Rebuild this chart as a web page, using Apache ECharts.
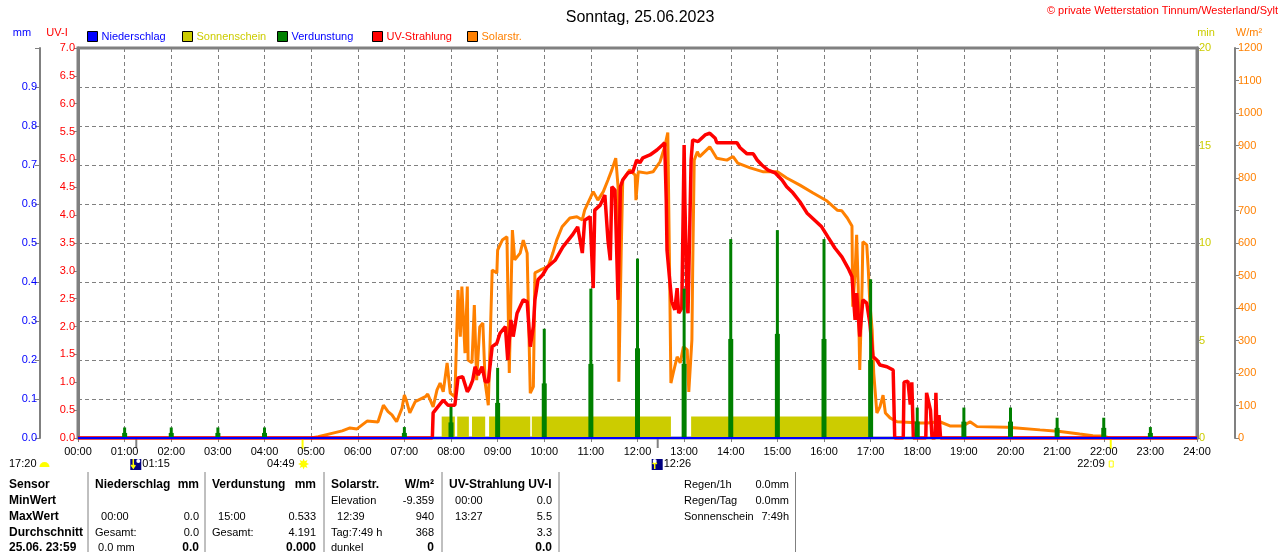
<!DOCTYPE html>
<html>
<head>
<meta charset="utf-8">
<title>Sonntag, 25.06.2023</title>
<script src="https://cdn.jsdelivr.net/npm/echarts/dist/echarts.min.js"></script>
<style>
html, body { margin: 0; padding: 0; background: #fff; }
#chart { width: 1280px; height: 552px; }
</style>
</head>
<body>
<div id="chart"></div>
<script>
// Tagesdaten 25.06.2023 (Zeit in Minuten seit Mitternacht)
var precipHourly = [0,0,0,0,0,0,0,0,0,0,0,0,0,0,0,0,0,0,0,0,0,0,0,0,0];

var sunStart = [468, 488, 507, 529, 584, 789];
var sunEnd   = [485, 503, 524, 582, 763, 1017];
var sunMin   = [1.1, 1.1, 1.1, 1.1, 1.1, 1.1];

var evapHours = [1,2,3,4,7,8,9,10,11,12,13,14,15,16,17,18,19,20,21,22,23];
var evapPeak  = [0.027,0.027,0.027,0.027,0.028,0.080,0.180,0.280,0.383,0.460,0.383,0.510,0.533,0.510,0.407,0.078,0.078,0.078,0.052,0.052,0.028];
var evapHalf  = [0.013,0.013,0.013,0.013,0.013,0.040,0.090,0.140,0.190,0.230,0.190,0.254,0.267,0.254,0.200,0.042,0.042,0.042,0.026,0.026,0.013];

var uvIndex = [[0,0],[456,0],[457,0.45],[462,0.54],[470,0.68],[476,0.59],[485,0.59],[489,1.08],[495,1.10],[501,0.83],[504,0.90],[508,1.04],[511,1.28],[515,1.13],[520,1.28],[524,1.01],[528,1.01],[533,1.64],[539,1.70],[543,1.88],[550,2.00],[553,1.40],[557,2.12],[560,1.82],[565,2.24],[573,2.48],[578,2.45],[582,1.64],[586,2.00],[588,2.48],[592,2.84],[598,2.93],[604,3.07],[614,3.19],[624,3.43],[636,3.64],[643,3.79],[649,3.32],[652,3.91],[659,3.97],[663,2.69],[665,4.09],[672,4.18],[678,4.36],[682,3.55],[685,3.19],[687,4.51],[691,4.45],[695,2.48],[698,4.51],[701,4.63],[708,4.76],[714,4.78],[719,4.99],[723,4.94],[727,5.03],[736,5.08],[745,5.17],[752,5.26],[755,5.30],[757,4.27],[758,3.37],[761,2.90],[764,2.45],[768,2.30],[771,2.69],[773,2.24],[777,2.33],[780,5.26],[781,4.22],[784,2.36],[785,2.24],[789,4.99],[791,5.35],[798,5.32],[807,5.44],[813,5.47],[820,5.38],[822,5.30],[848,5.30],[852,5.21],[861,5.10],[869,5.10],[874,4.99],[880,4.90],[888,4.81],[897,4.76],[906,4.63],[912,4.51],[920,4.40],[929,4.24],[938,4.04],[948,3.91],[957,3.79],[965,3.61],[974,3.41],[983,3.25],[991,3.05],[996,2.90],[1000,2.12],[1002,2.60],[1006,1.82],[1010,2.48],[1015,2.42],[1019,2.06],[1023,1.46],[1028,1.40],[1032,1.31],[1041,1.28],[1049,1.22],[1050,1.19],[1051,0],[1062,0],[1063,1.00],[1068,1.02],[1071,0.60],[1073,1.00],[1075,0],[1091,0],[1092,0.81],[1097,0.50],[1099,0],[1103,0],[1104,0.81],[1105,0.30],[1106,0],[1108,0.41],[1110,0],[1440,0]];

var solarWm2 = [[300,0],[309,4],[328,15],[340,22],[350,31],[359,28],[372,52],[386,49],[393,101],[399,81],[404,71],[410,50],[417,92],[420,132],[423,112],[427,77],[434,112],[447,127],[450,135],[457,96],[462,148],[466,169],[470,142],[475,231],[479,138],[485,127],[489,455],[492,312],[494,466],[498,261],[501,466],[502,240],[507,231],[510,409],[513,178],[517,342],[521,354],[524,169],[528,101],[533,517],[539,508],[540,578],[546,609],[552,619],[555,200],[559,640],[562,548],[569,569],[573,609],[578,569],[582,138],[586,158],[588,508],[595,517],[605,527],[611,569],[616,609],[623,650],[633,677],[642,681],[649,671],[652,701],[663,758],[669,732],[676,758],[682,794],[687,825],[692,861],[695,773],[696,173],[699,569],[701,794],[710,825],[717,809],[718,732],[721,819],[732,815],[740,819],[749,850],[755,896],[759,940],[761,569],[763,169],[766,200],[771,250],[775,231],[779,281],[784,271],[786,142],[790,302],[791,517],[793,855],[797,881],[800,866],[813,896],[822,861],[835,855],[843,866],[849,846],[865,831],[882,819],[900,819],[912,800],[929,778],[946,754],[964,729],[977,701],[983,699],[990,677],[996,652],[997,404],[1000,508],[1002,625],[1004,466],[1006,209],[1009,466],[1010,604],[1015,594],[1017,517],[1019,415],[1022,332],[1024,200],[1028,77],[1032,96],[1036,132],[1039,77],[1045,62],[1054,50],[1084,46],[1093,46],[1109,50],[1122,37],[1139,37],[1148,50],[1157,35],[1196,33],[1208,31],[1238,25],[1264,20],[1289,12],[1306,7],[1318,6],[1328,0]];

var legendNames = ['Niederschlag', 'Sonnenschein', 'Verdunstung', 'UV-Strahlung', 'Solarstr.'];
var legendBoxColors = ['#0000ff', '#cccc00', '#008000', '#ff0000', '#ff8000'];
var legendTextColors = ['#0000ff', '#cccc00', '#0000ff', '#ff0000', '#ff8000'];

var astroEvents = [
    { time: '01:15', type: 'moonrise' },
    { time: '04:49', type: 'sunrise' },
    { time: '12:26', type: 'moonset' },
    { time: '22:09', type: 'sunset' }
];
var prevEvent = '17:20';

var tableLabels = ['Sensor', 'MinWert', 'MaxWert', 'Durchschnitt', '25.06. 23:59'];
var tableBlocks = [
    { head: 'Niederschlag', unit: 'mm', left: ['', '  00:00', 'Gesamt:', ' 0.0 mm'], right: ['', '0.0', '0.0', '0.0'] },
    { head: 'Verdunstung', unit: 'mm', left: ['', '  15:00', 'Gesamt:', ''], right: ['', '0.533', '4.191', '0.000'] },
    { head: 'Solarstr.', unit: 'W/m²', left: ['Elevation', '  12:39', 'Tag:7:49 h', 'dunkel'], right: ['-9.359', '940', '368', '0'] },
    { head: 'UV-Strahlung UV-I', unit: '', left: ['  00:00', '  13:27', '', ''], right: ['0.0', '5.5', '3.3', '0.0'] }
];
var extraLabels = ['Regen/1h', 'Regen/Tag', 'Sonnenschein'];
var extraValues = ['0.0mm', '0.0mm', '7:49h'];

var FONT = '"Liberation Sans", Arial, sans-serif';
var GRAY = '#808080';

var chart = echarts.init(document.getElementById('chart'));

function pad2(n) { return (n < 10 ? '0' : '') + n; }
function toMin(s) { var p = s.split(':'); return (+p[0]) * 60 + (+p[1]); }

var option = {
    animation: false,
    backgroundColor: '#fff',
    title: {
        text: 'Sonntag, 25.06.2023',
        left: 'center',
        top: 5,
        textStyle: { fontFamily: FONT, fontSize: 16, fontWeight: 'normal', color: '#000' }
    },
    legend: legendNames.map(function (name, i) {
        return {
            data: [{ name: name, icon: 'rect', itemStyle: { color: legendBoxColors[i], borderColor: '#000', borderWidth: 1 } }],
            left: 87 + 95 * i,
            top: 31,
            padding: 0,
            itemWidth: 10,
            itemHeight: 10,
            itemGap: 0,
            selectedMode: false,
            textStyle: { color: legendTextColors[i], fontFamily: FONT, fontSize: 11, padding: [0, 0, 0, -1] }
        };
    }),
    grid: { left: 78, right: 83, top: 48, bottom: 114, show: true, borderColor: GRAY, borderWidth: 3 },
    xAxis: {
        type: 'value', min: 0, max: 1440, interval: 60,
        axisLine: { show: true, onZero: false, lineStyle: { color: GRAY, width: 1 } },
        axisTick: { show: true, length: 4, lineStyle: { color: GRAY } },
        axisLabel: {
            color: '#000', fontFamily: FONT, fontSize: 11, margin: 8,
            formatter: function (v) { return pad2(v / 60) + ':00'; }
        },
        splitLine: { show: true, lineStyle: { color: GRAY, width: 1, type: [4, 3] } }
    },
    yAxis: [
        {   // UV-I
            type: 'value', min: 0, max: 7, interval: 0.5, position: 'left',
            axisLine: { show: true, lineStyle: { color: GRAY, width: 3 } },
            axisTick: { show: true, length: 4, lineStyle: { color: GRAY } },
            axisLabel: { color: '#ff0000', fontFamily: FONT, fontSize: 11, margin: 3,
                formatter: function (v) { return v.toFixed(1); } },
            splitLine: { show: false }
        },
        {   // mm
            type: 'value', min: 0, max: 1, interval: 0.1, position: 'left', offset: 38,
            axisLine: { show: true, lineStyle: { color: GRAY, width: 2 } },
            axisTick: { show: true, length: 5, lineStyle: { color: GRAY } },
            axisLabel: { color: '#0000ff', fontFamily: FONT, fontSize: 11, margin: 3,
                formatter: function (v) { return v > 0.95 ? '' : v.toFixed(1); } },
            splitLine: { show: true, lineStyle: { color: GRAY, width: 1, type: [4, 3] } }
        },
        {   // min
            type: 'value', min: 0, max: 20, interval: 5, position: 'right',
            axisLine: { show: true, lineStyle: { color: GRAY, width: 3 } },
            axisTick: { show: true, length: 3, lineStyle: { color: GRAY } },
            axisLabel: { color: '#cccc00', fontFamily: FONT, fontSize: 11, margin: 2,
                formatter: function (v) { return String(v); } },
            splitLine: { show: false }
        },
        {   // W/m²
            type: 'value', min: 0, max: 1200, interval: 100, position: 'right', offset: 38,
            axisLine: { show: true, lineStyle: { color: GRAY, width: 2 } },
            axisTick: { show: true, length: 4, lineStyle: { color: GRAY } },
            axisLabel: { color: '#ff8000', fontFamily: FONT, fontSize: 11, margin: 3,
                formatter: function (v) { return String(v); } },
            splitLine: { show: false }
        }
    ],
    series: [
        {
            name: 'Sonnenschein', type: 'custom', yAxisIndex: 2, z: 2,
            encode: { x: [0, 1], y: 2 },
            data: sunStart.map(function (s, i) { return [s, sunEnd[i], sunMin[i]]; }),
            renderItem: function (params, api) {
                var p0 = api.coord([api.value(0), api.value(2)]);
                var p1 = api.coord([api.value(1), 0]);
                return { type: 'rect', shape: { x: p0[0], y: p0[1], width: p1[0] - p0[0], height: p1[1] - p0[1] },
                    style: { fill: '#cccc00' } };
            }
        },
        {
            name: 'Solarstr.', type: 'line', yAxisIndex: 3, z: 3,
            symbol: 'none', showSymbol: false,
            lineStyle: { color: '#ff8000', width: 3 }, itemStyle: { color: '#ff8000' },
            data: solarWm2
        },
        {
            name: 'UV-Strahlung', type: 'line', yAxisIndex: 0, z: 4,
            symbol: 'none', showSymbol: false,
            lineStyle: { color: '#ff0000', width: 3.5 }, itemStyle: { color: '#ff0000' },
            data: uvIndex
        },
        {
            name: 'Verdunstung', type: 'custom', yAxisIndex: 1, z: 5,
            encode: { x: 0, y: [1, 2] },
            data: evapHours.map(function (h, i) { return [h * 60, evapPeak[i], evapHalf[i]]; }),
            renderItem: function (params, api) {
                var top = api.coord([api.value(0), api.value(1)]);
                var mid = api.coord([api.value(0), api.value(2)]);
                var base = api.coord([api.value(0), 0]);
                return { type: 'group', children: [
                    { type: 'rect', shape: { x: top[0] - 1.5, y: top[1], width: 3, height: base[1] - top[1] }, style: { fill: '#008000' } },
                    { type: 'rect', shape: { x: mid[0] - 2.5, y: mid[1], width: 5, height: base[1] - mid[1] }, style: { fill: '#008000' } }
                ] };
            }
        },
        {
            name: 'Niederschlag', type: 'line', yAxisIndex: 1, z: 6,
            symbol: 'none', showSymbol: false,
            lineStyle: { color: '#0000ff', width: 2 }, itemStyle: { color: '#0000ff' },
            data: precipHourly.map(function (v, i) { return [i * 60, v]; })
        }
    ]
};

chart.setOption(option);

// Texte, Tabelle und Sonne/Mond-Marken
function txt(x, y, s, color, align, font) {
    return { type: 'text', silent: true, style: {
        x: x, y: y, text: s, fill: color || '#000',
        align: align || 'left', verticalAlign: 'middle',
        textAlign: align || 'left', textVerticalAlign: 'middle',
        font: font || ('11px ' + FONT) } };
}
function vline(x, y1, y2, color, w) {
    return { type: 'line', silent: true, shape: { x1: x, y1: y1, x2: x, y2: y2 }, style: { stroke: color, lineWidth: w || 1 } };
}

var g = [];
g.push(txt(1278, 11, '© private Wetterstation Tinnum/Westerland/Sylt', '#ff0000', 'right'));
g.push(txt(22, 33, 'mm', '#0000ff', 'center'));
g.push(txt(57, 33, 'UV-I', '#ff0000', 'center'));
g.push(txt(1206, 33, 'min', '#cccc00', 'center'));
g.push(txt(1249, 33, 'W/m²', '#ff8000', 'center'));

var baseY = chart.convertToPixel({ yAxisIndex: 0 }, 0);
var markY = 464;

g.push(txt(9, markY, prevEvent, '#000', 'left'));
g.push({ type: 'sector', silent: true, shape: { cx: 44.5, cy: markY + 3, r0: 0, r: 5, startAngle: Math.PI, endAngle: 2 * Math.PI }, style: { fill: '#ffff00' } });

astroEvents.forEach(function (ev) {
    var x = chart.convertToPixel({ xAxisIndex: 0 }, toMin(ev.time));
    if (ev.type === 'moonrise' || ev.type === 'moonset') {
        g.push(vline(x, baseY, baseY + 10, GRAY, 2));
        g.push({ type: 'rect', silent: true, shape: { x: x - 6, y: markY - 5, width: 11, height: 11 }, style: { fill: '#000080' } });
        var up = ev.type === 'moonset';
        g.push({ type: 'polyline', silent: true,
            shape: { points: up ? [[x - 3, markY + 5], [x - 3, markY - 2], [x - 5, markY], [x - 3, markY - 3], [x - 1, markY]]
                                : [[x - 3, markY - 5], [x - 3, markY + 3], [x - 5, markY + 1], [x - 3, markY + 4], [x - 1, markY + 1]] },
            style: { stroke: '#ffff00', lineWidth: 1.5, fill: null } });
        g.push({ type: 'circle', silent: true, shape: { cx: up ? x - 3 : x + 2, cy: markY - 3, r: 2 }, style: { fill: '#ffffff' } });
        g.push(txt(x + 6, markY, ev.time, '#000', 'left'));
    } else if (ev.type === 'sunrise') {
        g.push(vline(x, baseY + 1, baseY + 11, '#ffff00', 2));
        var pts = [];
        for (var k = 0; k < 16; k++) {
            var a = k * Math.PI / 8, r = (k % 2 === 0) ? 5.5 : 3;
            pts.push([x + 1 + r * Math.cos(a), markY + r * Math.sin(a)]);
        }
        g.push({ type: 'polygon', silent: true, shape: { points: pts }, style: { fill: '#ffff00' } });
        g.push(txt(x - 8, markY, ev.time, '#000', 'right'));
    } else {
        g.push(vline(x, baseY + 1, baseY + 11, '#ffff00', 2));
        g.push({ type: 'rect', silent: true, shape: { x: x - 1.5, y: markY - 3, width: 4, height: 6 }, style: { fill: null, stroke: '#ffff00', lineWidth: 1 } });
        g.push(txt(x - 6, markY, ev.time, '#000', 'right'));
    }
});

// Tabelle
var rowY = [485, 501, 517, 532.5, 548];
var blockLeft = [95, 212, 331, 449];
var blockRight = [199, 316, 434, 552];
var dividers = [88, 205, 324, 442, 559, 795.5];
var BOLD = 'bold 12px ' + FONT;

tableLabels.forEach(function (s, i) { g.push(txt(9, rowY[i], s, '#000', 'left', BOLD)); });
dividers.forEach(function (x) { g.push(vline(x, 472, 552, GRAY, 1)); });
tableBlocks.forEach(function (b, j) {
    g.push(txt(blockLeft[j], rowY[0], b.head, '#000', 'left', BOLD));
    if (b.unit) g.push(txt(blockRight[j], rowY[0], b.unit, '#000', 'right', BOLD));
    for (var r = 0; r < 4; r++) {
        var last = r === 3;
        if (b.left[r]) g.push(txt(blockLeft[j], rowY[r + 1], b.left[r], '#000', 'left'));
        if (b.right[r]) g.push(txt(blockRight[j], rowY[r + 1], b.right[r], '#000', 'right', last ? BOLD : null));
    }
});
extraLabels.forEach(function (s, i) {
    g.push(txt(684, rowY[i], s, '#000', 'left'));
    g.push(txt(789, rowY[i], extraValues[i], '#000', 'right'));
});

chart.setOption({ graphic: g });
</script>
</body>
</html>
